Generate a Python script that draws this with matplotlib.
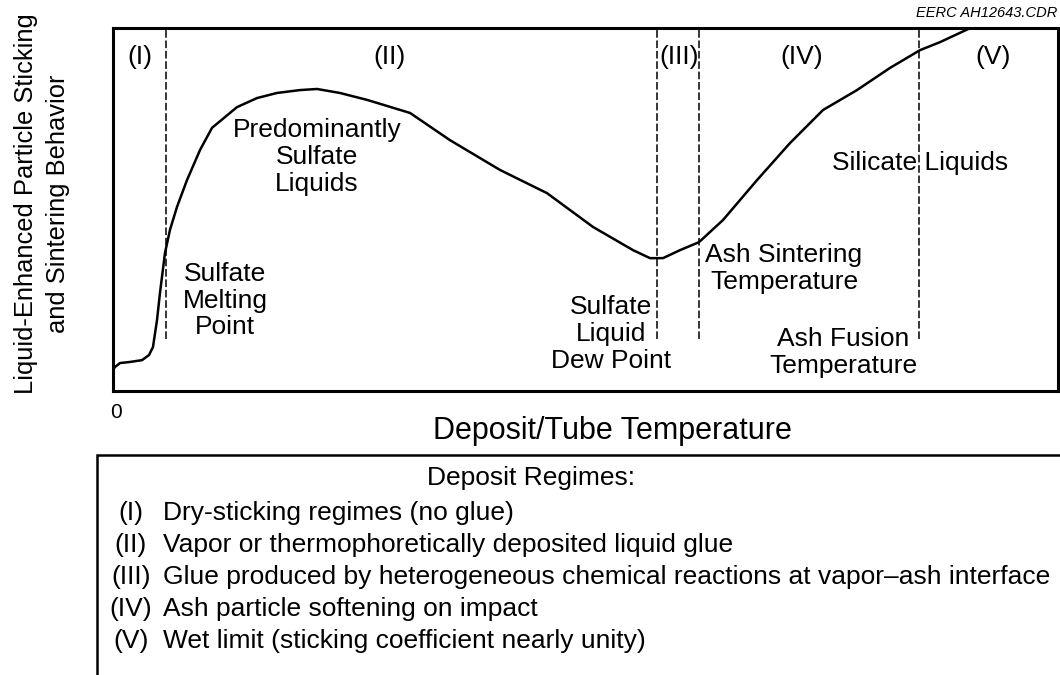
import matplotlib
matplotlib.use("Agg")
import matplotlib.pyplot as plt
from matplotlib.patches import Rectangle

# deposit/tube temperature (0-100, arbitrary) vs. sticking behaviour (0-100, arbitrary)
temperature = [0.0, 0.21, 0.74, 1.80, 3.07, 3.81, 4.23, 4.66, 4.97, 5.50, 6.03,
               6.77, 7.83, 9.21, 10.48, 13.12, 15.24, 17.35, 19.79, 21.59, 24.02,
               26.88, 31.43, 35.66, 40.95, 45.93, 50.79, 55.03, 56.83, 58.20, 60.00,
               62.01, 64.55, 68.15, 71.64, 75.13, 78.73, 82.22, 85.40, 87.51, 90.48]
sticking = [5.8, 6.6, 7.7, 8.0, 8.5, 9.9, 12.1, 19.6, 27.0, 38.0, 44.4,
            50.7, 58.1, 66.4, 72.5, 78.2, 80.7, 82.1, 82.9, 83.2, 82.1,
            80.2, 76.6, 69.1, 60.9, 54.5, 45.2, 38.8, 36.6, 36.6, 38.8,
            41.0, 47.1, 58.1, 68.3, 77.4, 82.9, 89.0, 93.9, 96.1, 99.7]

# regime boundaries (sulfate melting, dew point, ash sintering, ash fusion)
boundaries = [5.61, 57.57, 62.01, 85.29]
boundary_bottom = 14.4

regimes = ["(I)", "(II)", "(III)", "(IV)", "(V)"]
regime_x = [2.86, 29.3, 59.9, 72.9, 93.1]
descriptions = [
    "Dry-sticking regimes (no glue)",
    "Vapor or thermophoretically deposited liquid glue",
    "Glue produced by heterogeneous chemical reactions at vapor\u2013ash interface",
    "Ash particle softening on impact",
    "Wet limit (sticking coefficient nearly unity)",
]


def main():
    plt.rcParams["font.family"] = ["Liberation Sans", "DejaVu Sans"]
    W, H = 1060, 675
    fig = plt.figure(figsize=(W / 100, H / 100), dpi=100)
    ax = fig.add_axes([113 / W, 1 - 391 / H, 945 / W, 363 / H])

    ax.plot(temperature, sticking, color="black", lw=1.8, solid_joinstyle="round")
    for b in boundaries:
        ax.plot([b, b], [boundary_bottom, 100], color="black", lw=1.1,
                dashes=(5, 1.8))

    ax.set_xlim(0, 100)
    ax.set_ylim(0, 100)
    ax.set_xticks([])
    ax.set_yticks([])
    for s in ax.spines.values():
        s.set_linewidth(2.2)

    fs = 19
    for lab, x in zip(regimes, regime_x):
        ax.text(x, 92.0, lab, ha="center", va="center", fontsize=fs)

    ax.text(21.6, 64.4, "Predominantly\nSulfate\nLiquids", ha="center", va="center",
            fontsize=fs, linespacing=1.15)
    ax.text(11.85, 24.9, "Sulfate\nMelting\nPoint", ha="center", va="center",
            fontsize=fs, linespacing=1.15)
    ax.text(52.7, 15.7, "Sulfate\nLiquid\nDew Point", ha="center", va="center",
            fontsize=fs, linespacing=1.15)
    ax.text(71.0, 33.7, "Ash Sintering\nTemperature", ha="center", va="center",
            fontsize=fs, linespacing=1.15)
    ax.text(77.3, 10.5, "Ash Fusion\nTemperature", ha="center", va="center",
            fontsize=fs, linespacing=1.15)
    ax.text(85.4, 62.7, "Silicate Liquids", ha="center", va="center", fontsize=fs)

    # axis annotations
    fig.text(116 / W, 1 - 412 / H, "0", ha="center", va="center", fontsize=15)
    fig.text(612 / W, 1 - 431 / H, "Deposit/Tube Temperature", ha="center",
             va="center", fontsize=22)
    fig.text(42 / W, 1 - 204 / H,
             "Liquid-Enhanced Particle Sticking\nand Sintering Behavior",
             ha="center", va="center", rotation=90, fontsize=18.4, linespacing=1.4)
    fig.text(1057 / W, 1 - 13 / H, "EERC AH12643.CDR", ha="right", va="center",
             fontsize=10.5, style="italic")

    # regime legend box
    fig.add_artist(Rectangle((97 / W, -0.1), 1.0, (675 - 455) / H + 0.1,
                             transform=fig.transFigure, fill=False,
                             edgecolor="black", lw=1.8))
    fig.text(531 / W, 1 - 478 / H, "Deposit Regimes:", ha="center", va="center",
             fontsize=fs)
    for i, (lab, desc) in enumerate(zip(regimes, descriptions)):
        y = 1 - (513 + 32 * i) / H
        fig.text(131 / W, y, lab, ha="center", va="center", fontsize=fs)
        fig.text(163 / W, y, desc, ha="left", va="center", fontsize=fs)

    fig.savefig("out.png", dpi=100)


if __name__ == "__main__":
    main()
